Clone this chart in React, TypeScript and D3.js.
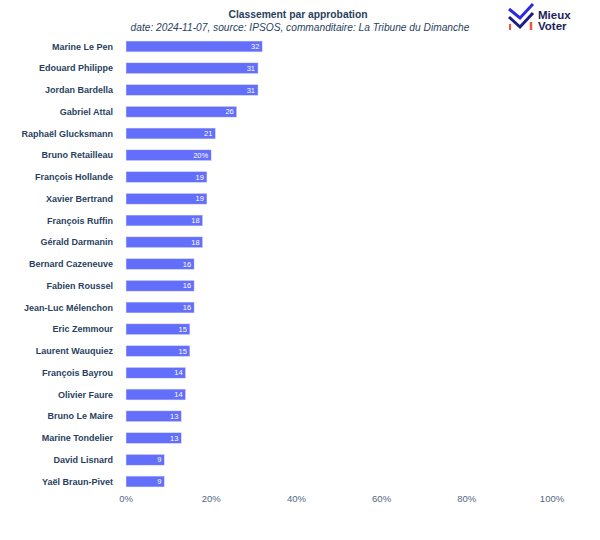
import React from "react";
import * as d3 from "d3";

const candidates = [
  "Marine Le Pen", "Edouard Philippe", "Jordan Bardella", "Gabriel Attal",
  "Raphaël Glucksmann", "Bruno Retailleau", "François Hollande", "Xavier Bertrand",
  "François Ruffin", "Gérald Darmanin", "Bernard Cazeneuve", "Fabien Roussel",
  "Jean-Luc Mélenchon", "Eric Zemmour", "Laurent Wauquiez", "François Bayrou",
  "Olivier Faure", "Bruno Le Maire", "Marine Tondelier", "David Lisnard", "Yaël Braun-Pivet",
];
const approval = [32, 31, 31, 26, 21, 20, 19, 19, 18, 18, 16, 16, 16, 15, 15, 14, 14, 13, 13, 9, 9];
const valueLabels = ["32", "31", "31", "26", "21", "20%", "19", "19", "18", "18", "16", "16", "16", "15", "15", "14", "14", "13", "13", "9", "9"];
const xTicks = [0, 20, 40, 60, 80, 100];

const title = "Classement par approbation";
const subtitle = "date: 2024-11-07, source: IPSOS, commanditaire: La Tribune du Dimanche";

export default function App() {
  const W = 600, H = 540;
  const x = d3.scaleLinear().domain([0, 100]).range([126, 552]);
  const y = d3.scaleBand<string>().domain(candidates).range([35.6, 492.4]).paddingInner(0.5).paddingOuter(0.25);
  const font = "'Liberation Sans', Arial, sans-serif";
  const textColor = "#2a3f5f";
  return (
    <svg width={W} height={H} style={{ position: "absolute", left: 0, top: 0, background: "#fff" }} fontFamily={font}>
      <text x={298} y={18} textAnchor="middle" fontSize={10.3} fontWeight="bold" fill={textColor}>{title}</text>
      <text x={300} y={31} textAnchor="middle" fontSize={10.2} fontStyle="italic" fill={textColor}>{subtitle}</text>
      {/* logo */}
      <g>
        <path d="M509,9 L520,18 L533,4" fill="none" stroke="#2b2bdc" strokeWidth={3} strokeLinejoin="miter" />
        <path d="M509,17 L520,27 L533,13" fill="none" stroke="#1c1c8a" strokeWidth={3} strokeLinejoin="miter" />
        <path d="M510,24 L510,30" stroke="#f2543d" strokeWidth={2} />
        <path d="M531,22 L531,30" stroke="#f2543d" strokeWidth={2.5} />
        <text x={538} y={19} fontSize={11.5} fontWeight="bold" fill="#1e1e5a">Mieux</text>
        <text x={538} y={30} fontSize={11.5} fontWeight="bold" fill="#1e1e5a">Voter</text>
      </g>
      {candidates.map((c, i) => {
        const yy = y(c)!;
        const bw = y.bandwidth();
        return (
          <g key={c}>
            <text x={113} y={yy + bw / 2} dy="0.35em" textAnchor="end" fontSize={9} fontWeight="bold" fill={textColor}>{c}</text>
            <rect x={x(0)} y={yy} width={x(approval[i]) - x(0)} height={bw} fill="#636efa" stroke="#e5ecf6" strokeWidth={0.5} />
            <text x={x(approval[i]) - 3} y={yy + bw / 2} dy="0.35em" textAnchor="end" fontSize={7.5} fill="#ffffff">{valueLabels[i]}</text>
          </g>
        );
      })}
      {xTicks.map((t) => (
        <text key={t} x={x(t)} y={502} textAnchor="middle" fontSize={9.5} fill="#506784">{t}%</text>
      ))}
    </svg>
  );
}
